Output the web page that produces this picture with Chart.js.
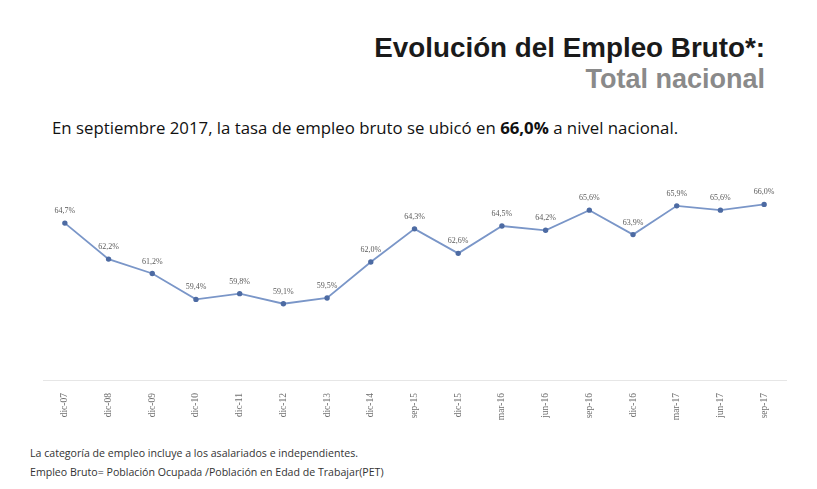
<!DOCTYPE html>
<html>
<head>
<meta charset="utf-8">
<script src="https://cdn.jsdelivr.net/npm/chart.js@4.4.1/dist/chart.umd.min.js"></script>
<style>
  html, body { margin: 0; padding: 0; background: #fff; }
  body { width: 817px; height: 489px; position: relative; overflow: hidden; font-family: "Liberation Sans", Arial, sans-serif; }
  .title { position: absolute; right: 52px; top: 32px; font-size: 27.8px; font-weight: bold; color: #1a1a1a; white-space: nowrap; }
  .subtitle { position: absolute; right: 52px; top: 64px; font-size: 27px; font-weight: bold; color: #8a8a8a; white-space: nowrap; }
  .lead { position: absolute; left: 52px; top: 116px; font-family: "Open Sans", sans-serif; font-size: 16.8px; color: #111; white-space: nowrap; }
  .note { position: absolute; left: 30px; font-family: "Open Sans", sans-serif; font-size: 10.6px; color: #333; white-space: nowrap; }
  #wrap { position: absolute; left: 0; top: 170px; width: 817px; height: 262px; }
</style>
</head>
<body>
<div class="title">Evolución del Empleo Bruto*:</div>
<div class="subtitle">Total nacional</div>
<div class="lead">En septiembre 2017, la tasa de empleo bruto se ubicó en <b>66,0%</b> a nivel nacional.</div>
<div class="note" style="top:446px">La categoría de empleo incluye a los asalariados e independientes.</div>
<div class="note" style="top:465px">Empleo Bruto= Población Ocupada /Población en Edad de Trabajar(PET)</div>
<div id="wrap"><canvas id="c"></canvas></div>
<script>
// Periodos y tasa de empleo bruto (%)
const periods = ['dic-07','dic-08','dic-09','dic-10','dic-11','dic-12','dic-13','dic-14','sep-15','dic-15','mar-16','jun-16','sep-16','dic-16','mar-17','jun-17','sep-17'];
const empleoBruto = [64.7, 62.2, 61.2, 59.4, 59.8, 59.1, 59.5, 62.0, 64.3, 62.6, 64.5, 64.2, 65.6, 63.9, 65.9, 65.6, 66.0];

const fmt = v => v.toFixed(1).replace('.', ',') + '%';

// Etiquetas de valor sobre cada punto
const valueLabels = {
  id: 'valueLabels',
  afterDatasetsDraw(chart) {
    const ctx = chart.ctx;
    const meta = chart.getDatasetMeta(0);
    ctx.save();
    ctx.font = '8px "Liberation Serif", serif';
    ctx.fillStyle = '#5a5a5a';
    ctx.textAlign = 'center';
    ctx.textBaseline = 'bottom';
    meta.data.forEach((pt, i) => {
      ctx.fillText(fmt(empleoBruto[i]), pt.x, pt.y - 8);
    });
    ctx.restore();
  }
};

new Chart(document.getElementById('c'), {
  type: 'line',
  data: {
    labels: periods,
    datasets: [{
      data: empleoBruto,
      borderColor: '#7a96c8',
      borderWidth: 1.8,
      pointRadius: 1.8,
      pointBackgroundColor: '#4d6ba3',
      pointBorderColor: '#4d6ba3',
      tension: 0
    }]
  },
  options: {
    responsive: true,
    maintainAspectRatio: false,
    animation: false,
    layout: { padding: { left: 43, right: 31, top: 20, bottom: 0 } },
    plugins: { legend: { display: false }, tooltip: { enabled: false } },
    scales: {
      x: {
        offset: true,
        grid: { display: false },
        border: { display: true, color: '#e6e6e6' },
        ticks: {
          minRotation: 90, maxRotation: 90, autoSkip: false, padding: 5,
          color: '#6f6f6f', font: { size: 9.5, family: '"Liberation Serif", serif' }
        },
        afterFit(scale) { scale.height = 52; }
      },
      y: { display: false, min: 53.8, max: 67.0 }
    }
  },
  plugins: [valueLabels]
});
</script>
</body>
</html>
